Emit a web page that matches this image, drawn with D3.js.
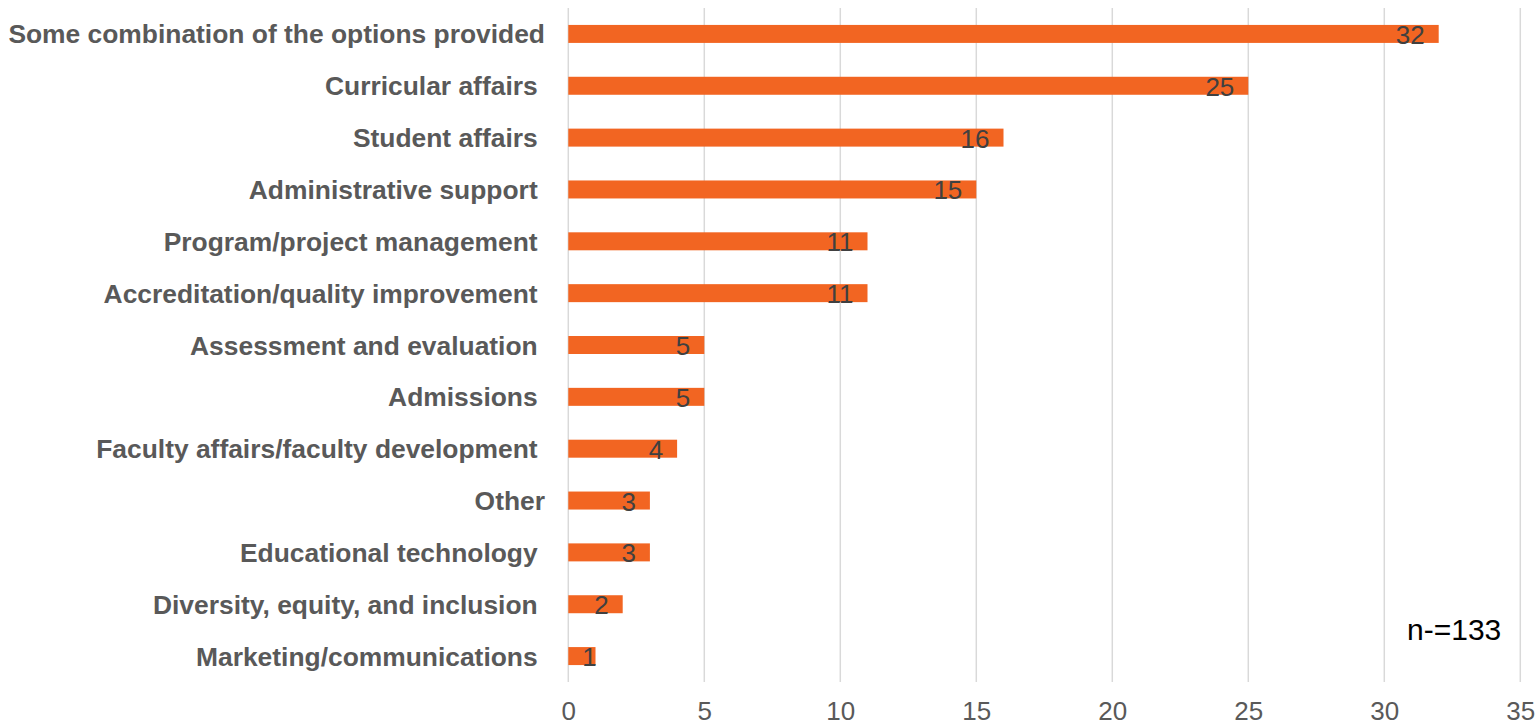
<!DOCTYPE html>
<html>
<head>
<meta charset="utf-8">
<script src="https://cdn.jsdelivr.net/npm/d3@7"></script>
<style>
  html, body { margin: 0; padding: 0; background: #ffffff; }
  svg { display: block; font-family: "Liberation Sans", Arial, sans-serif; }
</style>
</head>
<body>
<svg id="chart" width="1540" height="726"></svg>
<script>
// Roles reported by respondents (n = 133)
const categories = [
  "Some combination of the options provided",
  "Curricular affairs\u00a0",
  "Student affairs\u00a0",
  "Administrative support\u00a0",
  "Program/project management\u00a0",
  "Accreditation/quality improvement\u00a0",
  "Assessment and evaluation\u00a0",
  "Admissions\u00a0",
  "Faculty affairs/faculty development\u00a0",
  "Other",
  "Educational technology\u00a0",
  "Diversity, equity, and inclusion\u00a0",
  "Marketing/communications\u00a0"
];
const values = [32, 25, 16, 15, 11, 11, 5, 5, 4, 3, 3, 2, 1];
const tickValues = [0, 5, 10, 15, 20, 25, 30, 35];
const sampleNote = "n-=133";

const svg = d3.select("#chart");
const plot = { left: 568.3, right: 1520.3, top: 8, bottom: 682 };

const x = d3.scaleLinear().domain([0, 35]).range([plot.left, plot.right]);
const y = d3.scaleBand()
  .domain(categories)
  .range([plot.top, plot.bottom])
  .paddingInner(0.653)
  .paddingOuter(0.3265);

// Vertical gridlines
svg.append("g")
  .selectAll("line")
  .data(tickValues)
  .join("line")
  .attr("x1", d => x(d)).attr("x2", d => x(d))
  .attr("y1", plot.top).attr("y2", plot.bottom)
  .attr("stroke", "#d9d9d9")
  .attr("stroke-width", 1.5);

// Bottom axis tick labels
const xAxis = d3.axisBottom(x).tickValues(tickValues).tickSize(0).tickPadding(0);
const gx = svg.append("g")
  .attr("transform", `translate(0,${plot.bottom})`)
  .call(xAxis);
gx.select(".domain").remove();
gx.selectAll("text")
  .attr("y", 38)
  .attr("dy", null)
  .attr("fill", "#595959")
  .style("font-size", "26px");

// Category labels
const gy = svg.append("g")
  .attr("transform", "translate(545,0)")
  .call(d3.axisLeft(y).tickSize(0).tickPadding(0));
gy.select(".domain").remove();
gy.selectAll("text")
  .attr("fill", "#595959")
  .attr("dy", "0.36em")
  .style("font-size", "26.4px")
  .style("font-weight", "bold")
  .style("white-space", "pre");

// Bars
svg.append("g")
  .selectAll("rect")
  .data(values)
  .join("rect")
  .attr("x", x(0))
  .attr("y", (d, i) => y(categories[i]))
  .attr("width", d => x(d) - x(0))
  .attr("height", y.bandwidth())
  .attr("fill", "#f26522");

// Value labels, inside the end of each bar
const labels = svg.append("g")
  .selectAll("text")
  .data(values)
  .join("text")
  .attr("y", (d, i) => y(categories[i]) + y.bandwidth() / 2 + 10)
  .attr("text-anchor", "end")
  .attr("fill", "#404040")
  .style("font-size", "26px")
  .text(d => d);
labels.each(function(d) {
  const w = this.getComputedTextLength();
  const endX = Math.max(x(d) - 14, x(0) + 14 + w);
  d3.select(this).attr("x", endX);
});

// Sample size note
svg.append("text")
  .attr("x", 1407)
  .attr("y", 640)
  .attr("fill", "#000000")
  .style("font-size", "30px")
  .text(sampleNote);
</script>
</body>
</html>
